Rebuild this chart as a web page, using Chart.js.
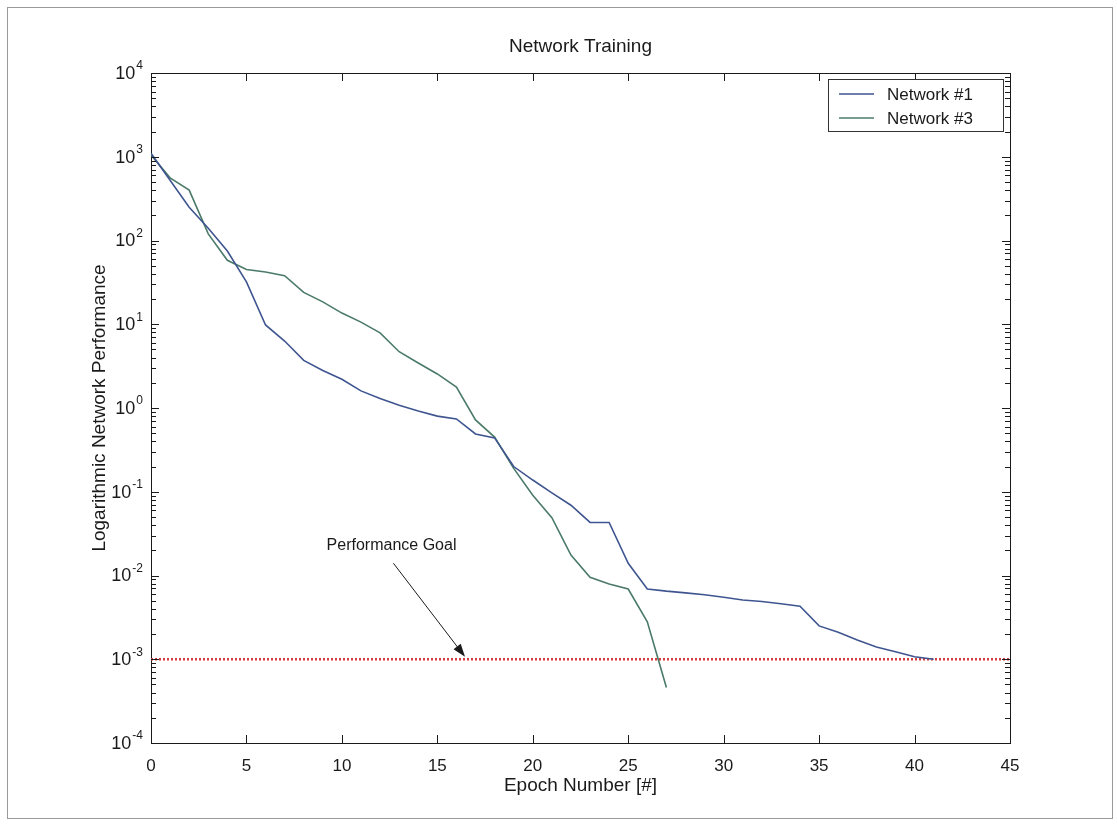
<!DOCTYPE html>
<html>
<head>
<meta charset="utf-8">
<title>Network Training</title>
<script src="https://cdn.jsdelivr.net/npm/chart.js@4.4.1/dist/chart.umd.min.js"></script>
<style>
  html, body { margin: 0; padding: 0; background: #fff; }
  #wrap { position: relative; width: 1117px; height: 833px; }
  #frame { position: absolute; left: 7px; top: 7px; width: 1104px; height: 810px; border: 1px solid #9a9a9a; }
  #chart { position: absolute; left: 0; top: 0; }
</style>
</head>
<body>
<div id="wrap">
  <div id="frame"></div>
  <canvas id="chart" width="1117" height="833"></canvas>
</div>
<script>
// values (log scale, so estimates per epoch)
const epochs1 = [0, 1, 2, 3, 4, 5, 6, 7, 8, 9, 10, 11, 12, 13, 14, 15, 16, 17, 18, 19, 20,
    21, 22, 23, 24, 25, 26, 27, 28, 29, 30, 31, 32, 33, 34, 35, 36, 37, 38, 39, 40, 41];
const network1 = [1100, 525, 250, 140, 75, 32, 9.8, 6.3, 3.7, 2.8, 2.2, 1.6, 1.3, 1.08, 0.92,
    0.80, 0.74, 0.49, 0.44, 0.20, 0.138, 0.097, 0.069, 0.043, 0.043, 0.014, 0.0069, 0.0065,
    0.0062, 0.0059, 0.0055, 0.0051, 0.0049, 0.0046, 0.0043, 0.0025, 0.0021, 0.0017, 0.0014,
    0.00123, 0.00107, 0.001];

const epochs3 = [0, 1, 2, 3, 4, 5, 6, 7, 8, 9, 10, 11, 12, 13, 14, 15, 16, 17, 18, 19, 20,
    21, 22, 23, 24, 25, 26, 27];
const network3 = [1050, 560, 400, 120, 58, 45, 42, 38, 24, 18.5, 13.6, 10.6, 7.9, 4.7, 3.45,
    2.55, 1.78, 0.72, 0.45, 0.19, 0.091, 0.049, 0.0175, 0.0095, 0.0079, 0.0069, 0.0028, 0.00046];

const goalEpochs = [0, 45];
const goalValues = [1e-3, 1e-3];

const seriesLabels = ['Network #1', 'Network #3'];
const xTicks = [0, 5, 10, 15, 20, 25, 30, 35, 40, 45];
const yTicks = [1e-4, 1e-3, 1e-2, 1e-1, 1, 1e1, 1e2, 1e3, 1e4];

// annotation: label point and arrow (epoch, value)
const goalNote = 'Performance Goal';
const notePos = [12.6, 0.023];
const arrowFrom = [12.7, 0.014];
const arrowTo = [16.45, 0.00107];

const FONT = '"Liberation Sans", Arial, Helvetica, sans-serif';
const INK = '#1a1a1a';

function toPoints(xs, ys) {
    return xs.map((x, i) => ({ x: x, y: ys[i] }));
}

// inward ticks on all four sides, like the matlab box
const boxTicks = {
    id: 'boxTicks',
    afterDraw(chart) {
        const ctx = chart.ctx;
        const a = chart.chartArea;
        const xs = chart.scales.x;
        const ys = chart.scales.y;
        ctx.save();
        ctx.strokeStyle = INK;
        ctx.lineWidth = 1;
        ctx.beginPath();
        xs.ticks.forEach(t => {
            const px = Math.round(xs.getPixelForValue(t.value)) + 0.5;
            ctx.moveTo(px, a.bottom); ctx.lineTo(px, a.bottom - 8);
            ctx.moveTo(px, a.top); ctx.lineTo(px, a.top + 8);
        });
        ys.ticks.forEach(t => {
            const decade = t.value;
            for (let m = 1; m <= 9; m++) {
                const v = decade * m;
                if (v > ys.max * 1.0001) break;
                const py = Math.round(ys.getPixelForValue(v)) + 0.5;
                const len = m === 1 ? 8 : 5;
                ctx.moveTo(a.left, py); ctx.lineTo(a.left + len, py);
                ctx.moveTo(a.right, py); ctx.lineTo(a.right - len, py);
            }
        });
        ctx.stroke();

        // y tick labels as 10 with raised exponent
        ctx.fillStyle = INK;
        ctx.textAlign = 'right';
        ctx.textBaseline = 'middle';
        ys.ticks.forEach(t => {
            const py = ys.getPixelForValue(t.value);
            const exp = String(Math.round(Math.log10(t.value)));
            const right = a.left - 8;
            ctx.font = '12px ' + FONT;
            const ew = ctx.measureText(exp).width;
            ctx.fillText(exp, right, py - 7);
            ctx.font = '18px ' + FONT;
            ctx.fillText('10', right - ew - 1, py + 1);
        });
        ctx.restore();
    }
};

// legend box in the top right corner of the plot
const boxLegend = {
    id: 'boxLegend',
    afterDraw(chart) {
        const ctx = chart.ctx;
        const a = chart.chartArea;
        const w = 175, h = 52;
        const left = a.right - 7 - w, top = a.top + 6;
        ctx.save();
        ctx.fillStyle = '#fff';
        ctx.fillRect(left, top, w, h);
        ctx.strokeStyle = '#333';
        ctx.lineWidth = 1;
        ctx.strokeRect(left + 0.5, top + 0.5, w, h);
        ctx.font = '17px ' + FONT;
        ctx.textAlign = 'left';
        ctx.textBaseline = 'middle';
        seriesLabels.forEach((label, i) => {
            const ds = chart.data.datasets[i];
            const y = top + 15 + i * 24;
            ctx.strokeStyle = ds.borderColor;
            ctx.lineWidth = 1.5;
            ctx.beginPath();
            ctx.moveTo(left + 11, y); ctx.lineTo(left + 46, y);
            ctx.stroke();
            ctx.fillStyle = INK;
            ctx.fillText(label, left + 59, y + 1);
        });
        ctx.restore();
    }
};

// "Performance Goal" note with its arrow
const goalArrow = {
    id: 'goalArrow',
    afterDatasetsDraw(chart) {
        const ctx = chart.ctx;
        const xs = chart.scales.x, ys = chart.scales.y;
        const x1 = xs.getPixelForValue(arrowFrom[0]), y1 = ys.getPixelForValue(arrowFrom[1]);
        const x2 = xs.getPixelForValue(arrowTo[0]), y2 = ys.getPixelForValue(arrowTo[1]);
        const ang = Math.atan2(y2 - y1, x2 - x1);
        ctx.save();
        ctx.strokeStyle = INK;
        ctx.fillStyle = INK;
        ctx.lineWidth = 1;
        ctx.beginPath();
        ctx.moveTo(x1, y1);
        ctx.lineTo(x2 - 10 * Math.cos(ang), y2 - 10 * Math.sin(ang));
        ctx.stroke();
        ctx.beginPath();
        ctx.moveTo(x2, y2);
        ctx.lineTo(x2 - 13 * Math.cos(ang) + 4.5 * Math.sin(ang), y2 - 13 * Math.sin(ang) - 4.5 * Math.cos(ang));
        ctx.lineTo(x2 - 13 * Math.cos(ang) - 4.5 * Math.sin(ang), y2 - 13 * Math.sin(ang) + 4.5 * Math.cos(ang));
        ctx.closePath();
        ctx.fill();
        ctx.font = '16px ' + FONT;
        ctx.textAlign = 'center';
        ctx.textBaseline = 'middle';
        ctx.fillText(goalNote, xs.getPixelForValue(notePos[0]), ys.getPixelForValue(notePos[1]));
        ctx.restore();
    }
};

const ctx = document.getElementById('chart').getContext('2d');

new Chart(ctx, {
    type: 'line',
    data: {
        datasets: [{
            label: seriesLabels[0],
            data: toPoints(epochs1, network1),
            borderColor: '#3f5590',
            borderWidth: 1.6,
            pointRadius: 0,
            tension: 0
        }, {
            label: seriesLabels[1],
            data: toPoints(epochs3, network3),
            borderColor: '#4b7b68',
            borderWidth: 1.6,
            pointRadius: 0,
            tension: 0
        }, {
            label: 'Goal',
            data: toPoints(goalEpochs, goalValues),
            borderColor: '#d23c3c',
            borderWidth: 2.5,
            borderDash: [2, 2],
            pointRadius: 0
        }]
    },
    options: {
        responsive: false,
        animation: false,
        layout: { padding: 0 },
        plugins: {
            legend: { display: false },
            tooltip: { enabled: false }
        },
        scales: {
            x: {
                type: 'linear',
                position: 'bottom',
                min: 0,
                max: 45,
                afterBuildTicks: scale => { scale.ticks = xTicks.map(v => ({ value: v })); },
                afterFit: scale => { scale.height = 90; },
                grid: { display: false, drawTicks: false },
                border: { display: true, color: INK, width: 1 },
                ticks: { color: INK, font: { family: FONT, size: 17 }, padding: 13, maxRotation: 0 },
                title: {
                    display: true,
                    text: 'Epoch Number [#]',
                    color: INK,
                    font: { family: FONT, size: 19 },
                    padding: { top: 0, bottom: 36 }
                }
            },
            x2: {
                type: 'linear',
                position: 'top',
                min: 0,
                max: 45,
                afterFit: scale => { scale.height = 73; },
                grid: { display: false, drawTicks: false },
                border: { display: true, color: INK, width: 1 },
                ticks: { display: false },
                title: {
                    display: true,
                    text: 'Network Training',
                    color: INK,
                    font: { family: FONT, size: 19 },
                    padding: { top: 35, bottom: 0 }
                }
            },
            y: {
                type: 'logarithmic',
                position: 'left',
                min: 1e-4,
                max: 1e4,
                afterBuildTicks: scale => { scale.ticks = yTicks.map(v => ({ value: v })); },
                afterFit: scale => { scale.width = 151; },
                grid: { display: false, drawTicks: false },
                border: { display: true, color: INK, width: 1 },
                ticks: { display: false },
                title: {
                    display: true,
                    text: 'Logarithmic Network Performance',
                    color: INK,
                    font: { family: FONT, size: 19 },
                    padding: { top: 88, bottom: 0 }
                }
            },
            y2: {
                type: 'linear',
                position: 'right',
                min: 0,
                max: 1,
                afterFit: scale => { scale.width = 107; },
                grid: { display: false, drawTicks: false },
                border: { display: true, color: INK, width: 1 },
                ticks: { display: false }
            }
        }
    },
    plugins: [boxTicks, goalArrow, boxLegend]
});
</script>
</body>
</html>
